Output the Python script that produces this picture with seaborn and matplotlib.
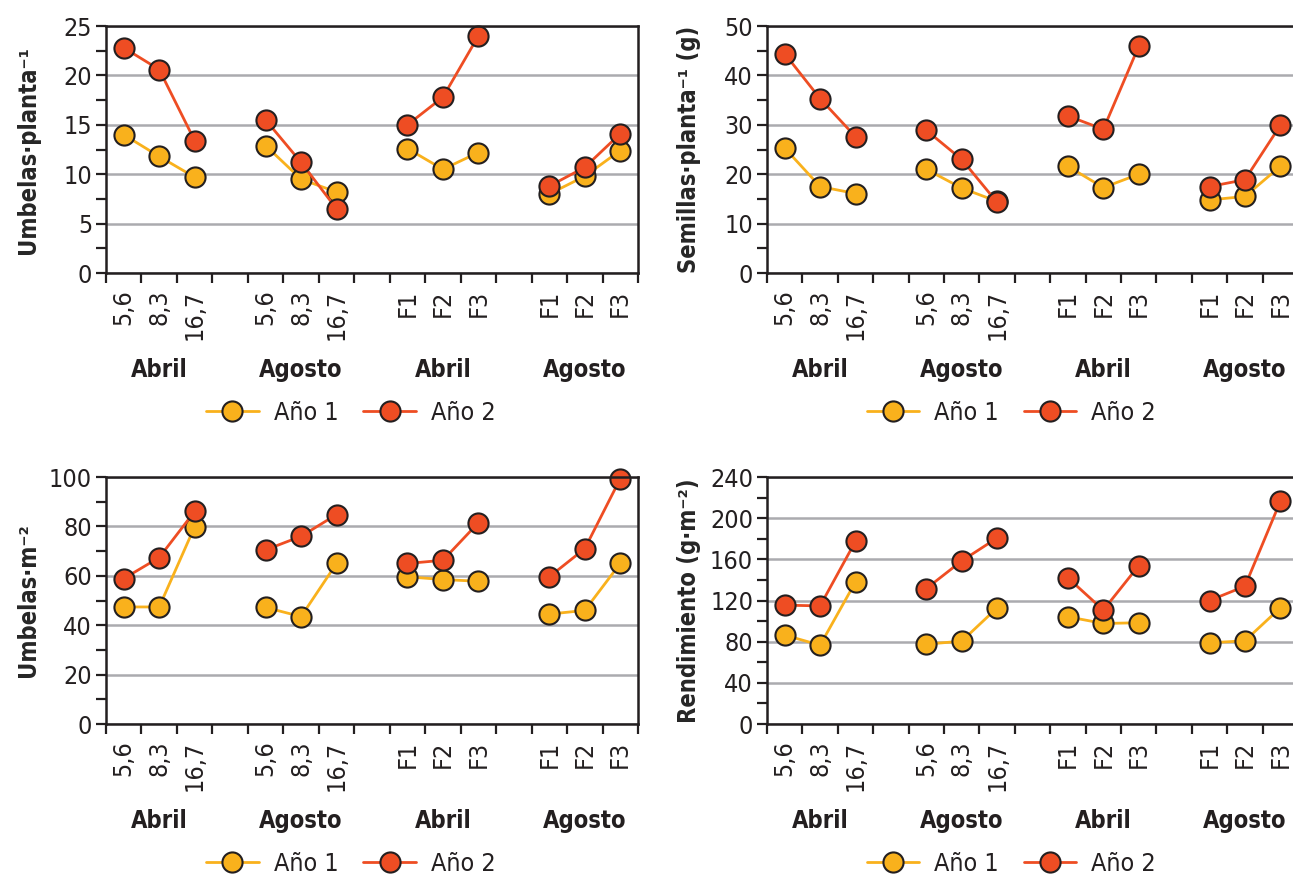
import pandas as pd
import matplotlib.pyplot as plt
import matplotlib.transforms as mtransforms
import seaborn as sns
from matplotlib.lines import Line2D
from matplotlib.ticker import MultipleLocator, FixedLocator

# Categories: four blocks (month) with three treatments each
meses = ['Abril', 'Agosto', 'Abril', 'Agosto']
niveles = [['5,6', '8,3', '16,7'], ['5,6', '8,3', '16,7'],
           ['F1', 'F2', 'F3'], ['F1', 'F2', 'F3']]
anios = ['Año 1', 'Año 2']

# Values (12 per year, block by block)
umbelas_planta_a1 = [14.0, 11.8, 9.7, 12.9, 9.5, 8.2, 12.6, 10.5, 12.2, 8.0, 9.8, 12.4]
umbelas_planta_a2 = [22.8, 20.6, 13.4, 15.5, 11.2, 6.5, 15.0, 17.8, 24.0, 8.8, 10.7, 14.1]
semillas_planta_a1 = [25.3, 17.5, 16.1, 21.0, 17.2, 14.5, 21.6, 17.3, 20.0, 14.8, 15.5, 21.6]
semillas_planta_a2 = [44.4, 35.3, 27.6, 28.9, 23.0, 14.3, 31.8, 29.1, 45.9, 17.5, 18.9, 29.9]
umbelas_m2_a1 = [47.4, 47.4, 79.9, 47.2, 43.5, 65.0, 59.6, 58.5, 57.8, 44.5, 46.0, 65.0]
umbelas_m2_a2 = [58.9, 67.4, 86.1, 70.5, 76.0, 84.8, 65.0, 66.3, 81.5, 59.6, 71.0, 99.3]
rendimiento_a1 = [86.4, 76.6, 138.1, 77.6, 80.5, 112.9, 104.2, 97.7, 98.4, 78.9, 80.9, 112.9]
rendimiento_a2 = [115.5, 114.8, 177.6, 131.6, 158.5, 180.8, 142.0, 110.7, 153.9, 120.0, 133.9, 216.4]

colores = {'Año 1': '#F9B11C', 'Año 2': '#EE4D23'}
borde = '#231F20'

sns.set_theme(style='white')
plt.rcParams['font.family'] = ['DejaVu Sans']
plt.rcParams['font.stretch'] = 'condensed'
plt.rcParams['text.color'] = borde

# slot layout: 3 treatments then an empty slot between blocks
pos = [4 * g + k for g in range(4) for k in range(3)]
etiquetas = [''] * 15
for g in range(4):
    for k in range(3):
        etiquetas[4 * g + k] = niveles[g][k]


def panel(ax, a1, a2, ymax, paso, ylabel):
    df = pd.DataFrame({
        'pos': pos * 2,
        'valor': a1 + a2,
        'anio': [anios[0]] * 12 + [anios[1]] * 12,
        'bloque': [p // 4 for p in pos] * 2,
    })
    sns.lineplot(data=df, x='pos', y='valor', hue='anio', hue_order=anios,
                 units='bloque', estimator=None, sort=False, palette=colores,
                 marker='o', markersize=14.5, markeredgecolor=borde,
                 markeredgewidth=1.5, linewidth=2.0, legend=False,
                 clip_on=False, ax=ax)

    # axes limits and ticks
    ax.set_xlim(-0.5, 14.5)
    ax.set_ylim(0, ymax)
    ax.xaxis.set_major_locator(FixedLocator(range(15)))
    ax.set_xticklabels(etiquetas, rotation=90, fontsize=18)
    ax.xaxis.set_minor_locator(FixedLocator([i - 0.5 for i in range(16)]))
    ax.tick_params(axis='x', which='major', length=0, pad=12, colors=borde)
    ax.tick_params(axis='x', which='minor', length=7, width=1.6,
                   direction='out', bottom=True, color=borde)
    ax.yaxis.set_major_locator(MultipleLocator(paso))
    ax.yaxis.set_minor_locator(MultipleLocator(paso / 2))
    ax.tick_params(axis='y', which='both', length=7, width=1.6, left=True,
                   direction='out', labelsize=18, colors=borde, pad=3)
    ax.set_xlabel('')
    ax.set_ylabel(ylabel, fontsize=17, fontweight='bold')
    ax.yaxis.set_label_coords(-0.125, 0.5)

    # horizontal gridlines and frame
    ax.yaxis.grid(True, color='#ABABAF', linewidth=1.8)
    ax.xaxis.grid(False)
    ax.set_axisbelow(True)
    for s in ax.spines.values():
        s.set_visible(True)
        s.set_color(borde)
        s.set_linewidth(1.8)

    # block (month) labels under the tick labels
    trans = mtransforms.blended_transform_factory(ax.transData, ax.transAxes)
    for g, mes in enumerate(meses):
        ax.text(4 * g + 1, -0.393, mes, transform=trans, ha='center',
                va='center', fontsize=17, fontweight='bold')

    # legend below each panel
    handles = [Line2D([0], [0], color=colores[a], marker='o', markersize=14.5,
                      markerfacecolor=colores[a], markeredgecolor=borde,
                      markeredgewidth=1.5, linewidth=2.0) for a in anios]
    ax.legend(handles, anios, loc='center', bbox_to_anchor=(0.46, -0.567),
              ncol=2, frameon=False, fontsize=18, handlelength=2.1,
              handletextpad=0.6, columnspacing=1.0)


fig = plt.figure(figsize=(12.93, 8.74), dpi=100)
ax1 = fig.add_axes([0.0820, 0.6876, 0.4114, 0.2826])
ax2 = fig.add_axes([0.5932, 0.6876, 0.4107, 0.2826])
ax3 = fig.add_axes([0.0820, 0.1716, 0.4114, 0.2826])
ax4 = fig.add_axes([0.5932, 0.1716, 0.4107, 0.2826])

panel(ax1, umbelas_planta_a1, umbelas_planta_a2, 25, 5, 'Umbelas·planta⁻¹')
panel(ax2, semillas_planta_a1, semillas_planta_a2, 50, 10, 'Semillas·planta⁻¹ (g)')
panel(ax3, umbelas_m2_a1, umbelas_m2_a2, 100, 20, 'Umbelas·m⁻²')
panel(ax4, rendimiento_a1, rendimiento_a2, 240, 40, 'Rendimiento (g·m⁻²)')

fig.savefig('out.png', dpi=100)
